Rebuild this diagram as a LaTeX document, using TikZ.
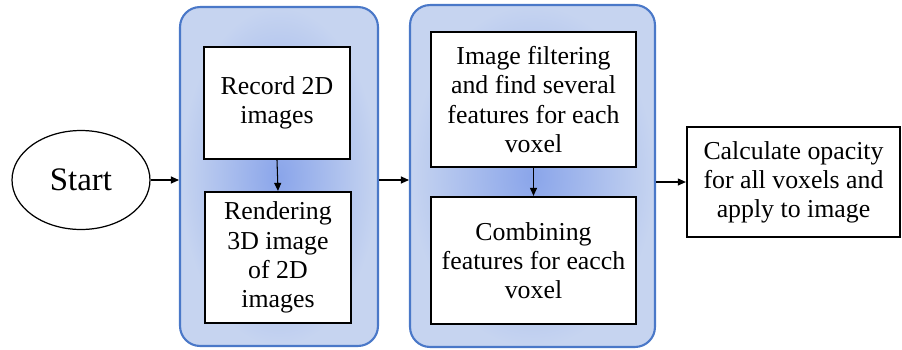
\documentclass[tikz,border=0pt]{standalone}
\usepackage{fontspec}
\setmainfont{Liberation Serif}
\usetikzlibrary{positioning,shapes.geometric,arrows.meta}
\definecolor{grpline}{RGB}{74,120,200}
\definecolor{grpin}{RGB}{138,165,234}
\definecolor{grpout}{RGB}{198,212,240}

\begin{document}
\begin{tikzpicture}[x=0.02cm,y=-0.02cm,
  >={Triangle[length=1.6mm,width=1.4mm]},
  group/.style={draw=grpline, line width=1.2pt, rounded corners=0.4cm,
    shading=radial, inner color=grpin, outer color=grpout, inner sep=0pt},
  stepbox/.style={draw, line width=1.3pt, fill=white, align=center, inner sep=2pt,
    font=\fontsize{14.7}{16.6}\selectfont}]
\useasboundingbox (0,0) rectangle (902,349);

% ----------------- groups -----------------
\node (grp1) [group, minimum width=3.96cm, minimum height=6.78cm] at (279,176.5) {};
\node (grp2) [group, minimum width=4.90cm, minimum height=6.84cm] at (532.5,176) {};

% ----------------- start -----------------
\node (start) [draw, ellipse, line width=0.7pt, minimum width=2.76cm, minimum height=1.98cm,
  font=\fontsize{18.7}{21}\selectfont] at (81,180) {Start};

% ----------------- first group -----------------
\node (box1) [stepbox, minimum width=2.92cm, minimum height=2.24cm] at (277,103) {Record 2D\\images};
\node (box2) [stepbox, minimum width=2.92cm, minimum height=2.62cm] at (278,257.5) {Rendering\\3D image\\of 2D\\images};

% ----------------- second group -----------------
\node (box3) [stepbox, minimum width=4.10cm, minimum height=2.70cm] at (533.5,99.5) {Image filtering\\and find several\\features for each\\voxel};
\node (box4) [stepbox, minimum width=4.10cm, minimum height=2.54cm] at (533.5,260.5) {Combining\\features for eacch\\voxel};

% ----------------- last step -----------------
\node (box5) [stepbox, minimum width=4.26cm, minimum height=2.20cm] at (793.5,182) {Calculate opacity\\for all voxels and\\apply to image};

% ----------------- Arrows -----------------
\draw[->, line width=0.6pt] (start.east) -- (start.east -| grp1.west);
\draw[->, line width=0.6pt] (box1.south) -- (box2.north);
\draw[->, line width=0.6pt] (grp1.east |- start.east) -- (start.east -| grp2.west);
\draw[->, line width=0.6pt] (box3.south) -- (box4.north);
\draw[->, line width=0.6pt] (grp2.east |- box5.west) -- (box5.west);

\end{tikzpicture}
\end{document}
